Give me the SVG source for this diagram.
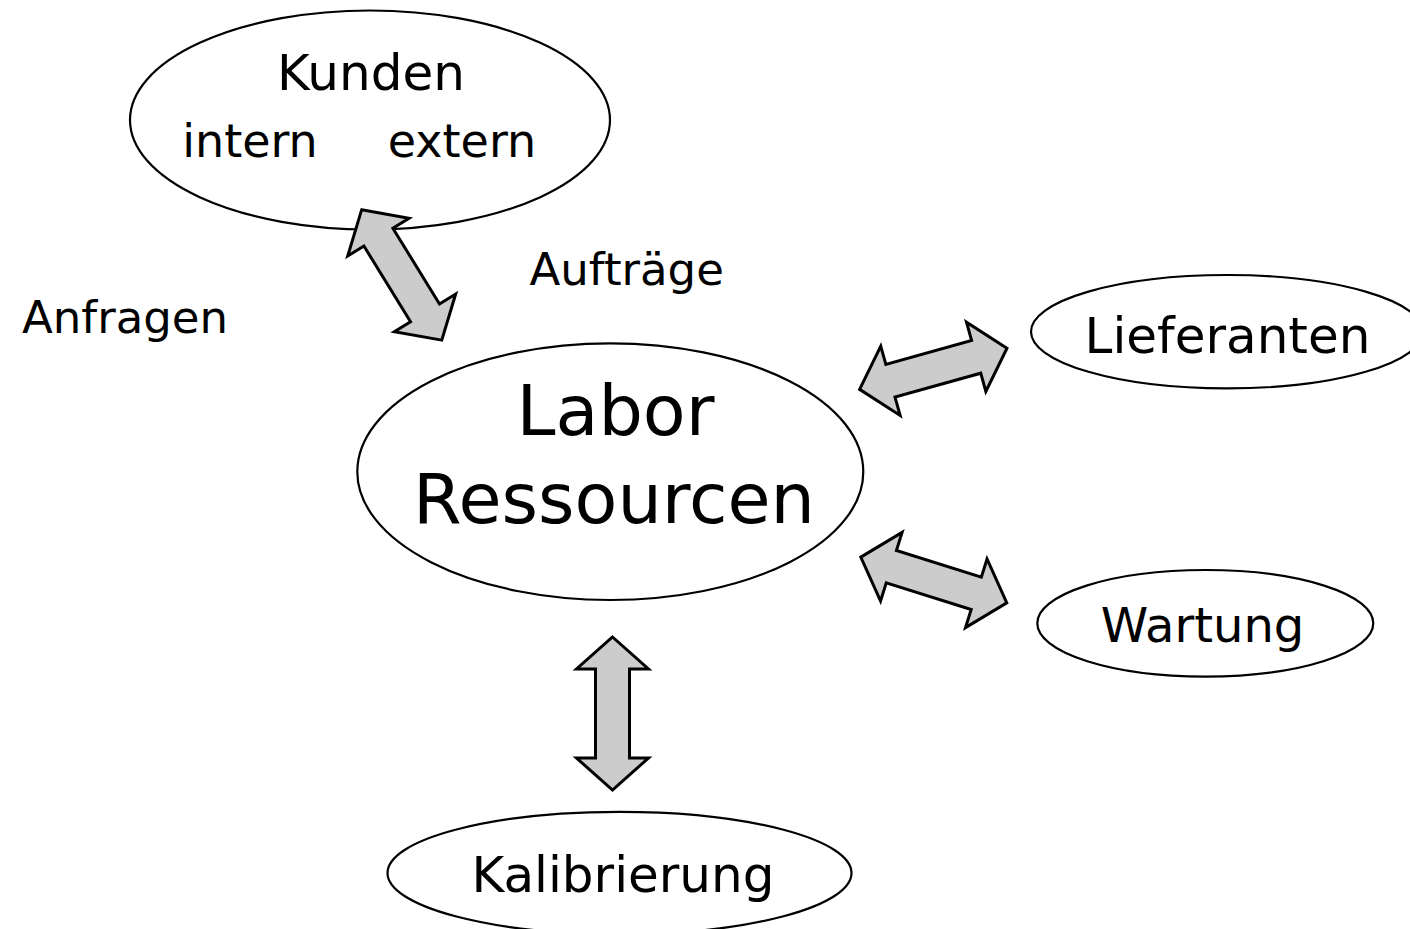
<svg xmlns="http://www.w3.org/2000/svg" xmlns:xlink="http://www.w3.org/1999/xlink" width="1410" height="929" viewBox="0 0 1410 929">
<style>
  .node { fill: #ffffff; stroke: #000000; stroke-width: 2.2; }
  .arrow { fill: #cccccc; stroke: #000000; stroke-width: 3; stroke-linejoin: miter; }
  text { font-family: "DejaVu Sans", "Liberation Sans", sans-serif; fill: #000000; text-anchor: middle; }
</style>
<defs>
  <path id="dblarrow" class="arrow" d="M -76.5 0 L -44.5 -36 L -44.5 -17 L 44.5 -17 L 44.5 -36 L 76.5 0 L 44.5 36 L 44.5 17 L -44.5 17 L -44.5 36 Z"/>
</defs>
<rect x="0" y="0" width="1410" height="929" fill="#ffffff"/>

<g id="kunden">
  <ellipse class="node" cx="370" cy="120" rx="240" ry="109.5"/>
  <text x="371" y="90" font-size="50">Kunden</text>
  <text y="157" font-size="46"><tspan x="250">intern</tspan><tspan x="462">extern</tspan></text>
</g>
<g id="labor">
  <ellipse class="node" cx="610.3" cy="471.7" rx="253" ry="128.3"/>
  <text x="615.5" y="435" font-size="70">Labor</text>
  <text x="614" y="523" font-size="70">Ressourcen</text>
</g>
<g id="lieferanten">
  <ellipse class="node" cx="1227" cy="331.7" rx="196" ry="56.7"/>
  <text x="1227.5" y="353" font-size="50">Lieferanten</text>
</g>
<g id="wartung">
  <ellipse class="node" cx="1205.3" cy="623.3" rx="168" ry="53.3"/>
  <text x="1202.5" y="642" font-size="48">Wartung</text>
</g>
<g id="kalibrierung">
  <ellipse class="node" cx="619.5" cy="873" rx="232" ry="61.2"/>
  <text x="623" y="892" font-size="50">Kalibrierung</text>
</g>
<g id="labels">
  <text x="626.7" y="285" font-size="45">Aufträge</text>
  <text x="125" y="333" font-size="45">Anfragen</text>
</g>
<g id="connectors">
  <use xlink:href="#dblarrow" href="#dblarrow" transform="translate(401.7 275) rotate(58.4)"/>
  <use xlink:href="#dblarrow" href="#dblarrow" transform="translate(933.3 368.8) rotate(-15.6)"/>
  <use xlink:href="#dblarrow" href="#dblarrow" transform="translate(933.8 580) rotate(17.4)"/>
  <use xlink:href="#dblarrow" href="#dblarrow" transform="translate(612.5 713.5) rotate(90)"/>
</g>
</svg>
